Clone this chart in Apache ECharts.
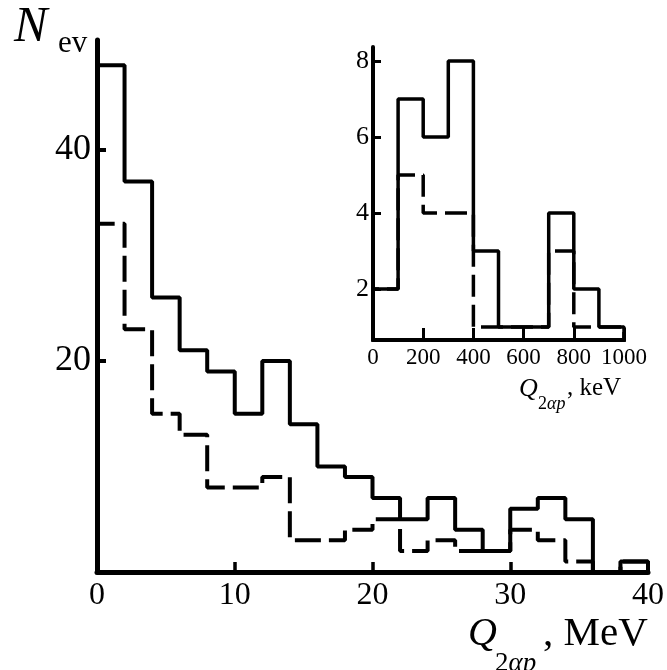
<!DOCTYPE html>
<html>
<head>
<meta charset="utf-8">
<script src="https://cdn.jsdelivr.net/npm/echarts@6/dist/echarts.min.js"></script>
<style>
  html, body { margin: 0; padding: 0; background: #fff; }
  #chart { width: 667px; height: 670px; }
</style>
</head>
<body>
<div id="chart"></div>
<script>
// Main histogram: 2 MeV bins, 0–40 MeV
const mevBinEdges = [0, 2, 4, 6, 8, 10, 12, 14, 16, 18, 20, 22, 24, 26, 28, 30, 32, 34, 36, 38, 40];
const mevAll      = [48, 37, 26, 21, 19, 15, 20, 14, 10, 9, 7, 5, 7, 4, 2, 6, 7, 5, 0, 1];
const mevSelected = [33, 23, 15, 13, 8, 8, 9, 3, 3, 4, 5, 2, 3, 2, 2, 4, 3, 1, 0, 1];
const mevCountTicks = [20, 40];

// Inset histogram: 100 keV bins, 0–1000 keV
const kevBinEdges = [0, 100, 200, 300, 400, 500, 600, 700, 800, 900, 1000];
const kevAll      = [2, 7, 6, 8, 3, 1, 1, 4, 2, 1];
const kevSelected = [2, 5, 4, 4, 1, 1, 1, 3, 1, 1];
const kevCountTicks = [2, 4, 6, 8];

// Turn bin edges + counts into the outline of a step histogram
function stepOutline(edges, counts) {
  const pts = [[edges[0], 0]];
  counts.forEach((c, i) => pts.push([edges[i], c]));
  const last = edges[edges.length - 1];
  pts.push([last, counts[counts.length - 1]]);
  pts.push([last, 0]);
  return pts;
}

const SERIF = '"Liberation Serif", "DejaVu Serif", serif';
const dashMain = [26, 8];
const dashInset = [22, 8];

const chart = echarts.init(document.getElementById('chart'), null, { renderer: 'canvas' });

function txt(text, x, y, size, italic) {
  return {
    type: 'text', x: x, y: y, silent: true,
    style: {
      text: text, fill: '#000',
      font: (italic ? 'italic ' : '') + size + 'px ' + SERIF,
      align: 'left', verticalAlign: 'middle'
    }
  };
}

// subscript "2αp": upright digit, italic letters
function sub(x, y, size) {
  return {
    type: 'text', x: x, y: y, silent: true,
    style: {
      text: '{r|2}{i|αp}', fill: '#000', align: 'left', verticalAlign: 'middle',
      rich: {
        r: { fontFamily: SERIF, fontSize: size, fill: '#000' },
        i: { fontFamily: SERIF, fontSize: size, fontStyle: 'italic', fill: '#000' }
      }
    }
  };
}

chart.setOption({
  animation: false,
  backgroundColor: '#fff',
  grid: [
    { left: 97, top: 40, width: 553, height: 532 },
    { left: 373, top: 47, width: 251, height: 293 }
  ],
  xAxis: [
    {
      gridIndex: 0, type: 'value', min: 0, max: 40, interval: 10,
      axisLine: { show: true, lineStyle: { color: '#000', width: 5 } },
      axisTick: { show: true, inside: true, length: 10, lineStyle: { color: '#000', width: 3.5 } },
      axisLabel: { show: true, color: '#000', fontFamily: SERIF, fontSize: 32, margin: 8 },
      splitLine: { show: false }
    },
    {
      gridIndex: 1, type: 'value', min: 0, max: 1000, interval: 200,
      axisLine: { show: true, lineStyle: { color: '#000', width: 4 } },
      axisTick: { show: true, inside: true, length: 12, lineStyle: { color: '#000', width: 3 } },
      axisLabel: { show: true, color: '#000', fontFamily: SERIF, fontSize: 23, margin: 6,
                   formatter: (v) => String(v) },
      splitLine: { show: false }
    }
  ],
  yAxis: [
    {
      gridIndex: 0, type: 'value', min: 0, max: 50.4,
      axisLine: { show: true, lineStyle: { color: '#000', width: 5 } },
      axisTick: { show: true, inside: true, length: 9, customValues: mevCountTicks,
                  lineStyle: { color: '#000', width: 4 } },
      axisLabel: { show: true, color: '#000', fontFamily: SERIF, fontSize: 36, margin: 6,
                   customValues: mevCountTicks },
      splitLine: { show: false }
    },
    {
      gridIndex: 1, type: 'value', min: 0.66, max: 8.37,
      axisLine: { show: true, lineStyle: { color: '#000', width: 4 } },
      axisTick: { show: true, inside: true, length: 8, customValues: kevCountTicks,
                  lineStyle: { color: '#000', width: 3 } },
      axisLabel: { show: true, color: '#000', fontFamily: SERIF, fontSize: 26, margin: 4,
                   customValues: kevCountTicks },
      splitLine: { show: false }
    }
  ],
  series: [
    {
      type: 'line', xAxisIndex: 0, yAxisIndex: 0, step: 'end', symbol: 'none', z: 1,
      data: stepOutline(mevBinEdges, mevSelected),
      lineStyle: { color: '#000', width: 4, type: dashMain }
    },
    {
      type: 'line', xAxisIndex: 0, yAxisIndex: 0, step: 'end', symbol: 'none', z: 1,
      data: stepOutline(mevBinEdges, mevAll),
      lineStyle: { color: '#000', width: 4 }
    },
    {
      type: 'line', xAxisIndex: 1, yAxisIndex: 1, step: 'end', symbol: 'none', z: 1,
      data: stepOutline(kevBinEdges, kevSelected),
      lineStyle: { color: '#000', width: 3.5, type: dashInset }
    },
    {
      type: 'line', xAxisIndex: 1, yAxisIndex: 1, step: 'end', symbol: 'none', z: 1,
      data: stepOutline(kevBinEdges, kevAll),
      lineStyle: { color: '#000', width: 3.5 }
    }
  ],
  graphic: [
    txt('N', 14, 28, 50, true),
    txt('ev', 58, 44, 31, false),
    txt('Q', 468, 634, 40, true),
    sub(495, 664, 27),
    txt(', MeV', 543, 634, 41, false),
    txt('Q', 519, 389, 26, true),
    sub(538, 404, 18),
    txt(', keV', 567, 388, 25, false)
  ]
});
</script>
</body>
</html>
